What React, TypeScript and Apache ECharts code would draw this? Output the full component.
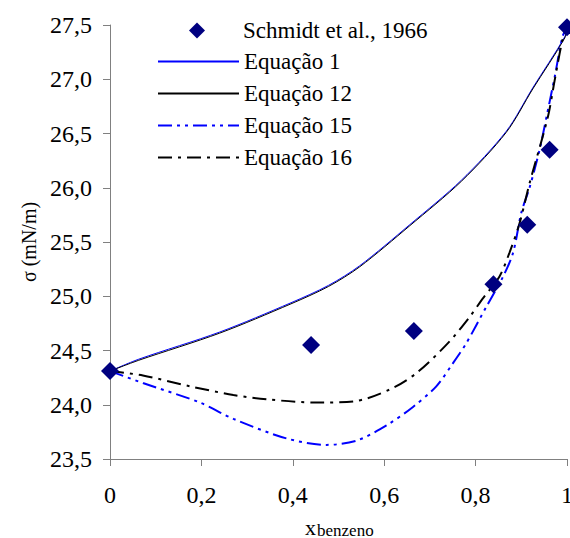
import React, { useEffect, useRef } from "react";
import * as echarts from "echarts";

const schmidtX = [0, 0.44, 0.665, 0.839, 0.913, 0.962, 1];
const schmidtY = [24.31, 24.55, 24.68, 25.11, 25.66, 26.35, 27.48];

const eq1X = [0, 0.063, 0.24, 0.396, 0.478, 0.546, 0.656, 0.769, 0.867, 0.925, 0.995, 1];
const eq1Y = [24.31, 24.42, 24.67, 24.94, 25.1, 25.28, 25.66, 26.07, 26.52, 26.92, 27.39, 27.48];

const eq12X = [0, 0.063, 0.24, 0.396, 0.478, 0.546, 0.656, 0.769, 0.867, 0.925, 0.995, 1];
const eq12Y = [24.31, 24.41, 24.66, 24.93, 25.09, 25.27, 25.65, 26.06, 26.51, 26.91, 27.38, 27.48];

const eq15X = [0, 0.072, 0.197, 0.27, 0.386, 0.474, 0.54, 0.605, 0.663, 0.714, 0.75, 0.78, 0.823, 0.86, 0.882, 0.9, 0.918, 0.94, 0.955, 0.973, 0.99, 1];
const eq15Y = [24.31, 24.2, 24.02, 23.87, 23.69, 23.63, 23.67, 23.81, 23.98, 24.17, 24.38, 24.57, 24.9, 25.18, 25.4, 25.77, 26.0, 26.35, 26.65, 27.02, 27.39, 27.48];

const eq16X = [0, 0.072, 0.175, 0.27, 0.343, 0.452, 0.532, 0.612, 0.67, 0.74, 0.787, 0.816, 0.852, 0.874, 0.896, 0.918, 0.958, 0.973, 0.99, 1];
const eq16Y = [24.31, 24.27, 24.17, 24.09, 24.05, 24.02, 24.03, 24.14, 24.29, 24.57, 24.81, 24.98, 25.18, 25.4, 25.67, 26.04, 26.65, 26.99, 27.36, 27.48];

const seriesNames = ["Schmidt et al., 1966", "Equação 1", "Equação 12", "Equação 15", "Equação 16"];
const xAxisTitle = "x";
const xAxisSubscript = "benzeno";
const yAxisTitle = "σ (mN/m)";

const zip = (xs: number[], ys: number[]) => xs.map((x, i) => [x, ys[i]]);

const FONT = "Liberation Serif";

export default function App() {
  const ref = useRef<HTMLDivElement>(null);
  useEffect(() => {
    if (!ref.current) return;
    const chart = echarts.init(ref.current, null, { renderer: "svg" });
    chart.setOption({
      animation: false,
      backgroundColor: "#ffffff",
      grid: { left: 110, right: 3, top: 25, bottom: 79, outerBoundsMode: "none", containLabel: false },
      legend: [
        {
          orient: "vertical",
          left: 184,
          top: 14,
          itemWidth: 16,
          itemHeight: 16,
          textStyle: { fontFamily: FONT, fontSize: 23, color: "#000", padding: [0, 0, 0, 33] },
          data: [seriesNames[0]],
        },
        {
          orient: "vertical",
          left: 152,
          top: 45,
          itemWidth: 81,
          itemHeight: 16,
          itemGap: 9,
          itemStyle: { opacity: 0 },
          textStyle: { fontFamily: FONT, fontSize: 23, color: "#000" },
          data: seriesNames.slice(1),
        },
      ],
      graphic: [
        {
          type: "text",
          x: 317,
          y: 530,
          style: { text: xAxisSubscript, fontFamily: FONT, fontSize: 17, fill: "#000", verticalAlign: "middle", align: "left" },
        },
      ],
      xAxis: {
        type: "value",
        min: 0,
        max: 1,
        interval: 0.2,
        name: xAxisTitle,
        nameLocation: "middle",
        nameGap: 57,
        nameTextStyle: { fontFamily: FONT, fontSize: 22, color: "#000", padding: [0, 56, 0, 0] },
        axisLine: { show: true, lineStyle: { color: "#808080", width: 1 } },
        axisTick: { show: true, inside: false, length: 7, lineStyle: { color: "#808080" } },
        splitLine: { show: false },
        axisLabel: {
          fontFamily: FONT,
          fontSize: 24,
          color: "#000",
          margin: 24,
          formatter: (v: number) => (v === 0 || v === 1 ? String(v) : v.toFixed(1).replace(".", ",")),
        },
      },
      yAxis: {
        type: "value",
        min: 23.5,
        max: 27.5,
        interval: 0.5,
        name: yAxisTitle,
        nameLocation: "middle",
        nameGap: 68,
        nameTextStyle: { fontFamily: FONT, fontSize: 20, color: "#000" },
        axisLine: { show: true, lineStyle: { color: "#808080", width: 1 } },
        axisTick: { show: true, inside: false, length: 7, lineStyle: { color: "#808080" } },
        splitLine: { show: false },
        axisLabel: {
          fontFamily: FONT,
          fontSize: 24,
          color: "#000",
          margin: 18,
          formatter: (v: number) => v.toFixed(1).replace(".", ","),
        },
      },
      series: [
        {
          name: seriesNames[0],
          type: "scatter",
          symbol: "diamond",
          symbolSize: 18,
          itemStyle: { color: "#000080", opacity: 1 },
          data: zip(schmidtX, schmidtY),
          z: 10,
        },
        {
          name: seriesNames[1],
          type: "line",
          showSymbol: false,
          symbol: "none",
          smooth: 0.3,
          lineStyle: { color: "#0000ff", width: 1 },
          itemStyle: { color: "#0000ff" },
          data: zip(eq1X, eq1Y),
          z: 3,
        },
        {
          name: seriesNames[2],
          type: "line",
          showSymbol: false,
          symbol: "none",
          smooth: 0.3,
          lineStyle: { color: "#000000", width: 1 },
          itemStyle: { color: "#000000" },
          data: zip(eq12X, eq12Y),
          z: 3,
        },
        {
          name: seriesNames[3],
          type: "line",
          showSymbol: false,
          symbol: "none",
          smooth: 0.3,
          lineStyle: { color: "#0000ff", width: 2, type: [14, 5, 3, 5, 3, 5] },
          itemStyle: { color: "#0000ff" },
          data: zip(eq15X, eq15Y),
          z: 4,
        },
        {
          name: seriesNames[4],
          type: "line",
          showSymbol: false,
          symbol: "none",
          smooth: 0.3,
          lineStyle: { color: "#000000", width: 2, type: [14, 6, 3, 6] },
          itemStyle: { color: "#000000" },
          data: zip(eq16X, eq16Y),
          z: 4,
        },
      ],
    });
    return () => chart.dispose();
  }, []);
  return <div ref={ref} style={{ width: 570, height: 538, position: "absolute", left: 0, top: 0 }} />;
}
